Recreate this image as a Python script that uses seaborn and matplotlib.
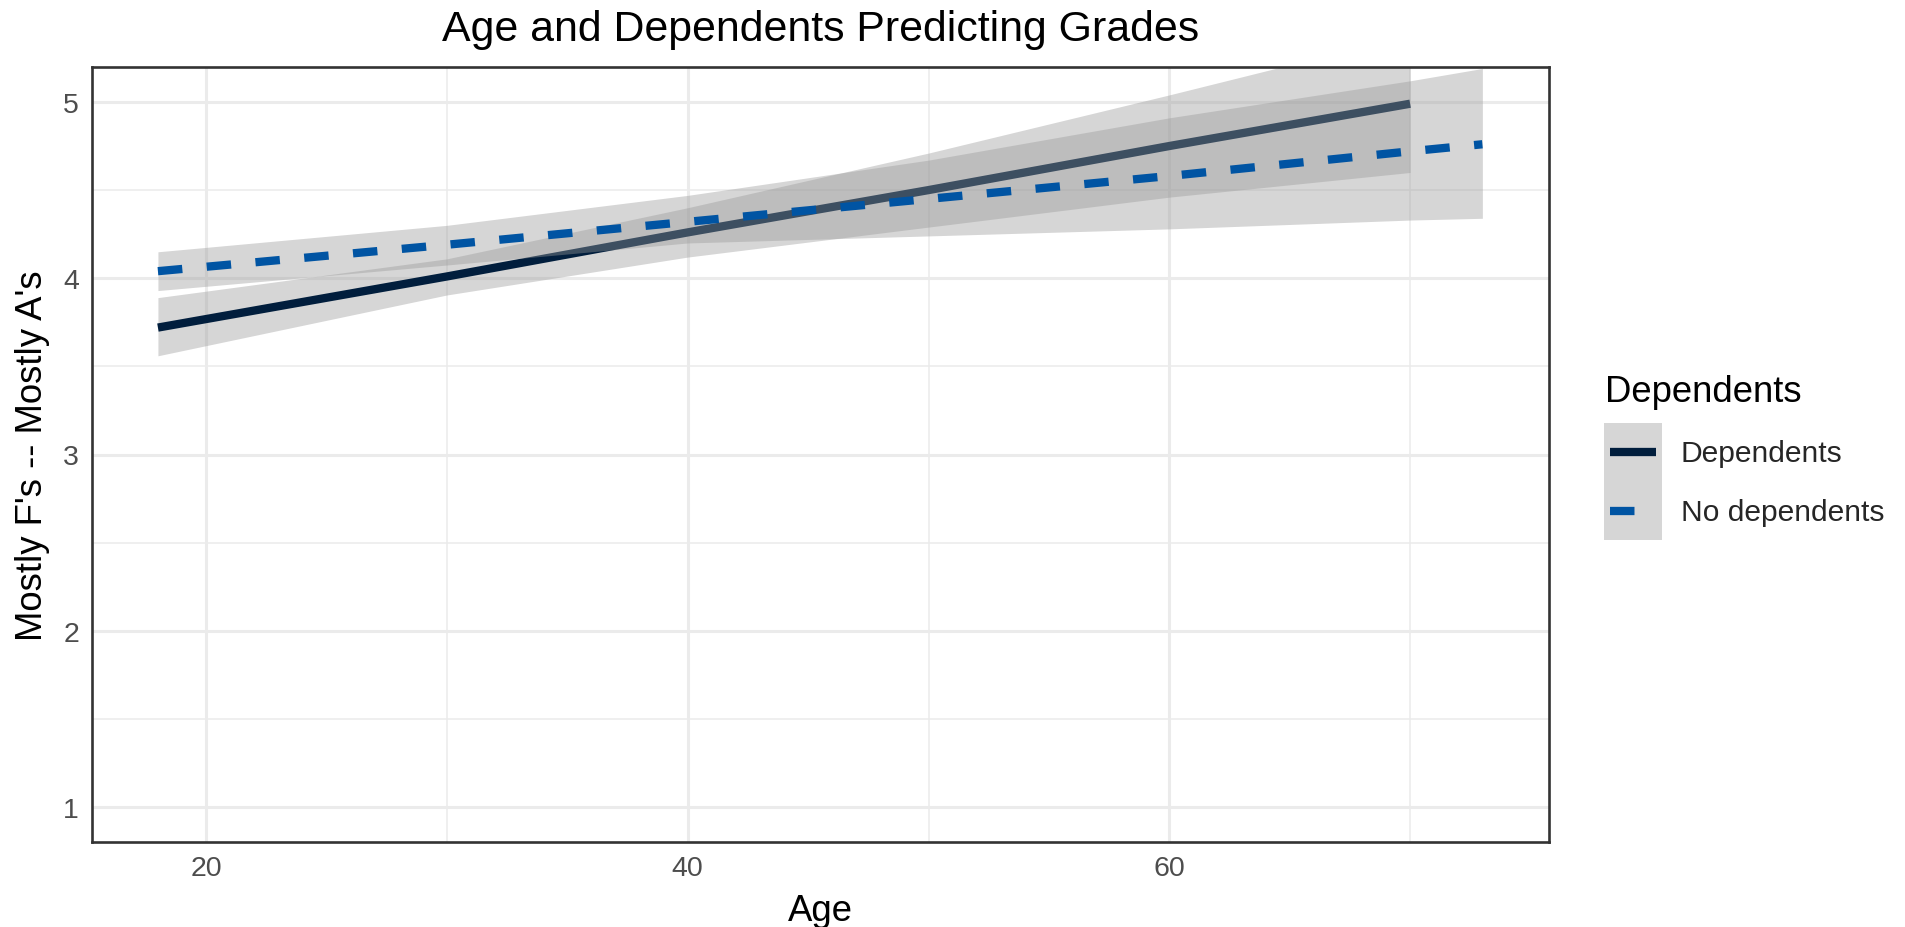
import numpy as np
import pandas as pd
import matplotlib
matplotlib.use("Agg")
import matplotlib.pyplot as plt
import seaborn as sns
from matplotlib.lines import Line2D
from matplotlib.patches import Rectangle
from matplotlib.legend_handler import HandlerBase
from matplotlib.ticker import MultipleLocator

# ---------------- data ----------------
groups = ["Dependents", "No dependents"]

dep_age = [18, 30, 40, 50, 60, 70]
dep_fit = [3.72, 4.01, 4.26, 4.50, 4.75, 4.99]
dep_lower = [3.56, 3.905, 4.12, 4.29, 4.46, 4.60]
dep_upper = [3.89, 4.11, 4.40, 4.71, 5.04, 5.38]

nodep_age = [18, 30, 40, 50, 60, 70, 73]
nodep_fit = [4.04, 4.19, 4.32, 4.45, 4.58, 4.72, 4.76]
nodep_lower = [3.93, 4.075, 4.20, 4.24, 4.28, 4.33, 4.34]
nodep_upper = [4.15, 4.30, 4.47, 4.67, 4.91, 5.12, 5.19]

x_ticks = [20, 40, 60]
y_ticks = [1, 2, 3, 4, 5]

title = "Age and Dependents Predicting Grades"
x_label = "Age"
y_label = "Mostly F's -- Mostly A's"
legend_title = "Dependents"

# ---------------- styling ----------------
sns.set_theme(style="white")
plt.rcParams["font.family"] = ["Liberation Sans", "DejaVu Sans"]

colors = {"Dependents": "#011E3D", "No dependents": "#0054A3"}
ribbon_color = "#999999"
ribbon_alpha = 0.4
DPI = 100
lw_px = 8.3
lw = lw_px * 72 / DPI
dash = (2.95, 2.95)

frames = {
    "Dependents": pd.DataFrame({"age": dep_age, "fit": dep_fit,
                                "lower": dep_lower, "upper": dep_upper}),
    "No dependents": pd.DataFrame({"age": nodep_age, "fit": nodep_fit,
                                   "lower": nodep_lower, "upper": nodep_upper}),
}

fig = plt.figure(figsize=(1906 / DPI, 928 / DPI), dpi=DPI)
W, H = 1906, 928
left, right, top, bottom = 91.7, 1548.6, 67.7, 843.3
ax = fig.add_axes([left / W, 1 - bottom / H, (right - left) / W, (bottom - top) / H])

z = 2
for g in groups:
    df = frames[g]
    ax.fill_between(df["age"], df["lower"], df["upper"], color=ribbon_color,
                    alpha=ribbon_alpha, linewidth=0, zorder=z)
    sns.lineplot(data=df, x="age", y="fit", ax=ax, color=colors[g], linewidth=lw,
                 zorder=z + 1, legend=False)
    if g == "No dependents":
        ax.lines[-1].set_dashes(dash)
    ax.lines[-1].set_solid_capstyle("butt")
    ax.lines[-1].set_dash_capstyle("butt")
    z += 2

ax.set_xlim(15.25, 75.75)
ax.set_ylim(0.8, 5.2)
ax.set_xticks(x_ticks)
ax.set_yticks(y_ticks)
ax.xaxis.set_minor_locator(MultipleLocator(10))
ax.yaxis.set_minor_locator(MultipleLocator(0.5))

ax.grid(which="major", color="#EBEBEB", linewidth=2.2, zorder=0)
ax.grid(which="minor", color="#EBEBEB", linewidth=1.1, zorder=0)
ax.set_axisbelow(True)

for s in ax.spines.values():
    s.set_color("#333333")
    s.set_linewidth(1.9)
    s.set_zorder(10)

ax.tick_params(axis="both", which="major", length=5.2, width=1.9, color="#333333",
               labelsize=20.5, labelcolor="#4D4D4D", pad=4)
ax.tick_params(axis="both", which="minor", length=0)
ax.set_xlabel("")
ax.set_ylabel("")

base = 26.3
# titles
fig.text(((left + right) / 2) / W, 1 - 40.7 / H, title, ha="center", va="baseline",
         fontsize=30.85, color="black")
fig.text(((left + right) / 2) / W, 1 - 921 / H, x_label, ha="center", va="baseline",
         fontsize=base, color="black")
fig.text(41.7 / W, 1 - ((top + bottom) / 2) / H, y_label, ha="center", va="baseline",
         rotation=90, rotation_mode="anchor", fontsize=base, color="black")

# legend
fig.text(1605 / W, 1 - 401.7 / H, legend_title, ha="left", va="baseline",
         fontsize=base, color="black")


class KeyHandler(HandlerBase):
    def create_artists(self, legend, orig_handle, xdescent, ydescent, width,
                       height, fontsize, trans):
        style = orig_handle
        rect = Rectangle((-xdescent, -ydescent), width, height,
                         facecolor=ribbon_color, alpha=ribbon_alpha,
                         edgecolor="none", transform=trans)
        ymid = -ydescent + height / 2
        pad = 0.21 * fontsize
        line = Line2D([-xdescent + pad, -xdescent + width - pad], [ymid, ymid],
                      color=style["color"], linewidth=lw, solid_capstyle="butt",
                      dash_capstyle="butt", transform=trans)
        if style["dashed"]:
            line.set_dashes(dash)
        return [rect, line]


class Key:
    def __init__(self, color, dashed):
        self.d = {"color": color, "dashed": dashed}

    def __getitem__(self, k):
        return self.d[k]


leg_fs = 21.6
fs_px = leg_fs * DPI / 72
key_px = 58.5
# choose handleheight so the drawing area height equals key_px
hh = (key_px - 0.35 * fs_px * 0.7) / (fs_px - 0.35 * fs_px)
handles = [Key(colors[g], g == "No dependents") for g in groups]

leg = ax.legend(handles, groups, handler_map={Key: KeyHandler()},
                loc="upper left", bbox_to_anchor=(1604 / W, 1 - 424 / H),
                bbox_transform=fig.transFigure, frameon=False, fontsize=leg_fs,
                borderpad=0, borderaxespad=0, labelspacing=0,
                handlelength=58 / fs_px, handleheight=hh,
                handletextpad=19 / fs_px)

fig.savefig("out.png", dpi=DPI, facecolor="white")
